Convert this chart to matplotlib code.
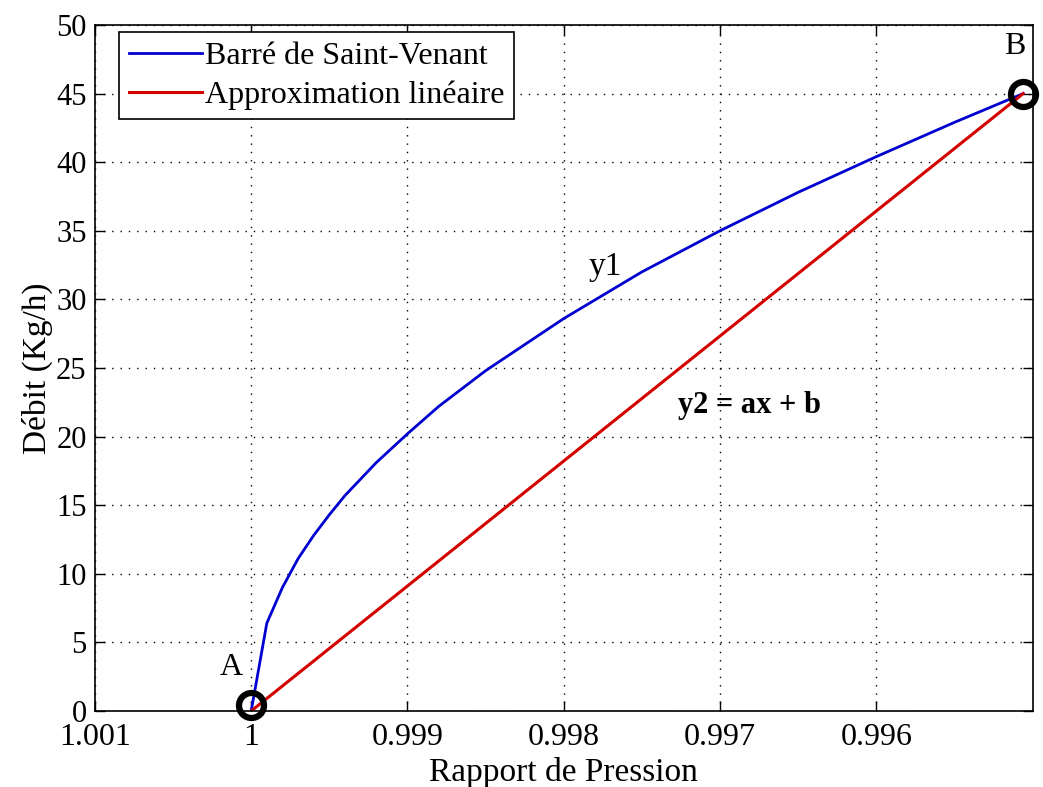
#!/usr/bin/env python3
# Debit vs rapport de pression: Barre de Saint-Venant curve and its
# linear approximation between points A and B.

import matplotlib
matplotlib.use("Agg")
import matplotlib.pyplot as plt

# ---------------------------------------------------------------------------
# Data
# ---------------------------------------------------------------------------

ratio_sv = [1.0, 0.9999, 0.9998, 0.9997, 0.9996, 0.9995, 0.9994, 0.9992,
            0.999, 0.9988, 0.9985, 0.998, 0.9975, 0.997, 0.9965, 0.996,
            0.9955, 0.99506]
debit_sv = [0.0, 6.4, 9.0, 11.1, 12.8, 14.3, 15.7, 18.1,
            20.2, 22.2, 24.8, 28.6, 32.0, 35.0, 37.8, 40.4,
            42.9, 45.0]

ratio_lin = [1.0, 0.99506]
debit_lin = [0.0, 45.0]

point_ratio = [1.0, 0.99506]
point_debit = [0.4, 45.0]
point_names = ["A", "B"]

x_ticks = [1.001, 1.0, 0.999, 0.998, 0.997, 0.996]
x_ticklabels = ["1.001", "1", "0.999", "0.998", "0.997", "0.996"]
y_ticks = list(range(0, 51, 5))

plt.rcParams["font.family"] = ["Liberation Serif", "DejaVu Serif"]

fig = plt.figure(figsize=(10.43, 7.87), dpi=100)
ax = fig.add_axes([0.091, 0.0966, 0.899, 0.8717])

ax.plot(ratio_sv, debit_sv, color="#0000d0", lw=2.0,
        label="Barré de Saint-Venant")
ax.plot(ratio_lin, debit_lin, color="#d40000", lw=2.2,
        label="Approximation linéaire")
ax.plot(point_ratio, point_debit, linestyle="none", marker="o",
        markersize=18, markerfacecolor="none", markeredgecolor="black",
        markeredgewidth=4.5, clip_on=False, zorder=5)

# point labels
ax.text(1.00013, 3.2, point_names[0], fontsize=23, ha="center", va="center")
ax.text(0.995114, 48.4, point_names[1], fontsize=23, ha="center",
        va="center")
ax.text(0.997737, 32.4, "y1", fontsize=24, ha="center", va="center")
ax.text(0.99681, 22.3, "y2 = ax + b", fontsize=22, fontweight="bold",
        ha="center", va="center")

ax.set_xlim(1.001, 0.995)
ax.set_ylim(0, 50)
ax.set_xticks(x_ticks)
ax.set_xticklabels(x_ticklabels)
ax.set_yticks(y_ticks)
ax.tick_params(direction="in", length=7, width=1, labelsize=23,
               top=True, right=True, pad=9)
ax.tick_params(axis="y", labelsize=22, pad=6)
ax.grid(True, color="black", linestyle=(0, (1, 5)), linewidth=1.0)
for sp in ax.spines.values():
    sp.set_linewidth(1.2)

ax.set_xlabel("Rapport de Pression", fontsize=24, labelpad=3)
ax.set_ylabel("Débit (Kg/h)", fontsize=24, labelpad=2)

leg = ax.legend(loc="upper left", bbox_to_anchor=(0.0256, 0.99),
                borderaxespad=0, fontsize=23, frameon=True, fancybox=False,
                edgecolor="black", framealpha=1, handlelength=2.3,
                handletextpad=0.1, borderpad=0.3, labelspacing=0.3)
leg.get_frame().set_linewidth(1.2)

fig.savefig("out.png", dpi=100)
